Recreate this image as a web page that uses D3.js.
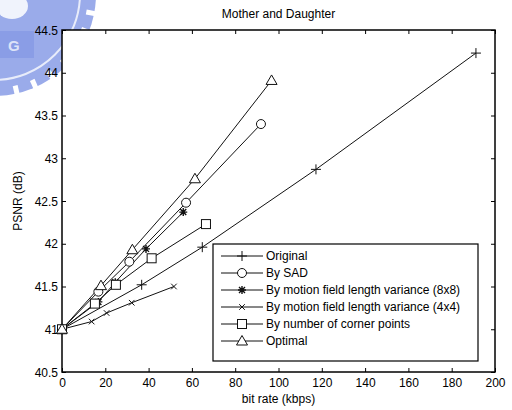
<!DOCTYPE html>
<html>
<head>
<meta charset="utf-8">
<script src="https://cdn.jsdelivr.net/npm/d3@7/dist/d3.min.js"></script>
<style>
  html, body { margin: 0; padding: 0; background: #fff; }
  svg { display: block; font-family: "Liberation Sans", Arial, sans-serif; }
</style>
</head>
<body>
<svg id="chart" width="512" height="410"></svg>
<script>
// Rate-distortion results for the "Mother and Daughter" sequence
const seriesNames = [
  "Original",
  "By SAD",
  "By motion field length variance (8x8)",
  "By motion field length variance (4x4)",
  "By number of corner points",
  "Optimal"
];
const seriesMarkers = ["plus", "circle", "star", "cross", "square", "triangle"];

const originalRate = [0, 36.8, 64.8, 117.3, 191.2];
const originalPsnr = [41.0, 41.52, 41.96, 42.87, 44.23];

const sadRate = [0, 16.8, 31.1, 57.3, 91.9];
const sadPsnr = [41.0, 41.44, 41.79, 42.48, 43.40];

const var8Rate = [0, 16.8, 24.6, 38.8, 56.0];
const var8Psnr = [41.0, 41.32, 41.55, 41.94, 42.37];

const var4Rate = [0, 13.7, 20.6, 32.2, 51.7];
const var4Psnr = [41.0, 41.09, 41.19, 41.31, 41.50];

const cornerRate = [0, 15.2, 24.9, 41.4, 66.5];
const cornerPsnr = [41.0, 41.30, 41.52, 41.83, 42.23];

const optimalRate = [0, 18.0, 32.5, 61.4, 96.8];
const optimalPsnr = [41.0, 41.51, 41.93, 42.76, 43.91];

const xTicks = [0, 20, 40, 60, 80, 100, 120, 140, 160, 180, 200];
const yTicks = [40.5, 41, 41.5, 42, 42.5, 43, 43.5, 44, 44.5];

const seriesRates = [originalRate, sadRate, var8Rate, var4Rate, cornerRate, optimalRate];
const seriesPsnrs = [originalPsnr, sadPsnr, var8Psnr, var4Psnr, cornerPsnr, optimalPsnr];
const series = seriesNames.map((name, i) => ({
  name,
  marker: seriesMarkers[i],
  points: seriesRates[i].map((r, j) => ({ rate: r, psnr: seriesPsnrs[i][j] }))
}));

const svg = d3.select("#chart");
const plot = { left: 62, right: 495, top: 30, bottom: 372 };

// Faint emblem in the upper-left corner
const emblem = svg.append("g").attr("transform", "translate(-6,-6)");
const embBlue = "#9aabea";
emblem.append("circle").attr("r", 102).attr("fill", embBlue);
d3.range(0, 360, 11).forEach(a => {
  emblem.append("rect")
    .attr("x", 94).attr("y", -2.5).attr("width", 14).attr("height", 5)
    .attr("fill", "#fff")
    .attr("transform", `rotate(${a})`);
});
emblem.append("circle").attr("r", 86).attr("fill", "none")
  .attr("stroke", "#e8ecfa").attr("stroke-width", 2);
emblem.append("ellipse").attr("cx", 18).attr("cy", 12).attr("rx", 16).attr("ry", 13)
  .attr("fill", "#fff").attr("opacity", 0.85);
emblem.append("rect").attr("x", 6).attr("y", 37).attr("width", 34).attr("height", 27)
  .attr("fill", "#8a9de6");
emblem.append("text").attr("x", 14).attr("y", 57).attr("fill", "#dde3f8")
  .attr("font-size", 15).attr("font-weight", "bold").text("G");

// Plot background covers the emblem
svg.append("rect")
  .attr("x", plot.left).attr("y", plot.top)
  .attr("width", plot.right - plot.left).attr("height", plot.bottom - plot.top)
  .attr("fill", "#fff");

const x = d3.scaleLinear().domain([0, 200]).range([plot.left, plot.right]);
const y = d3.scaleLinear().domain([40.5, 44.5]).range([plot.bottom, plot.top]);

const fmt = d => String(d);
const tickLen = 4;
const axisFont = 12;

// Inward ticks on all four sides
const axB = d3.axisBottom(x).tickValues(xTicks).tickSizeInner(-tickLen).tickSizeOuter(0).tickPadding(6).tickFormat(fmt);
const axT = d3.axisTop(x).tickValues(xTicks).tickSizeInner(-tickLen).tickSizeOuter(0).tickFormat("");
const axL = d3.axisLeft(y).tickValues(yTicks).tickSizeInner(-tickLen).tickSizeOuter(0).tickPadding(4).tickFormat(fmt);
const axR = d3.axisRight(y).tickValues(yTicks).tickSizeInner(-tickLen).tickSizeOuter(0).tickFormat("");

function styleAxis(g) {
  g.select(".domain").remove();
  g.selectAll("line").attr("stroke", "#000").attr("stroke-width", 1);
  g.selectAll("text").attr("fill", "#000").attr("font-size", axisFont)
    .attr("font-family", "'Liberation Sans', Arial, sans-serif");
}

svg.append("g").attr("transform", `translate(0,${plot.bottom})`).call(axB).call(styleAxis);
svg.append("g").attr("transform", `translate(0,${plot.top})`).call(axT).call(styleAxis);
svg.append("g").attr("transform", `translate(${plot.left},0)`).call(axL).call(styleAxis)
  .selectAll("text").attr("dy", "0.35em");
svg.append("g").attr("transform", `translate(${plot.right},0)`).call(axR).call(styleAxis);

// Frame
svg.append("rect")
  .attr("x", plot.left).attr("y", plot.top)
  .attr("width", plot.right - plot.left).attr("height", plot.bottom - plot.top)
  .attr("fill", "none").attr("stroke", "#000").attr("stroke-width", 1.5);

// Titles
svg.append("text").attr("x", (plot.left + plot.right) / 2).attr("y", 18)
  .attr("text-anchor", "middle").attr("font-size", 12).attr("fill", "#000")
  .text("Mother and Daughter");
svg.append("text").attr("x", (plot.left + plot.right) / 2).attr("y", 403)
  .attr("text-anchor", "middle").attr("font-size", 12).attr("fill", "#000")
  .text("bit rate (kbps)");
svg.append("text")
  .attr("transform", `translate(22,${(plot.top + plot.bottom) / 2}) rotate(-90)`)
  .attr("text-anchor", "middle").attr("font-size", 12).attr("fill", "#000")
  .text("PSNR (dB)");

// Marker drawing
const lineColor = "#111";
function drawMarker(g, type, cx, cy) {
  const s = g.append("g").attr("transform", `translate(${cx},${cy})`)
    .attr("fill", "none").attr("stroke", lineColor).attr("stroke-width", 1);
  switch (type) {
    case "plus":
      s.append("path").attr("d", "M-5,0H5M0,-5V5");
      break;
    case "circle":
      s.append("circle").attr("r", 4.5).attr("fill", "#fff");
      break;
    case "star":
      s.append("path").attr("d", "M-4,0H4M0,-4V4M-3,-3L3,3M-3,3L3,-3").attr("stroke-width", 1.4);
      break;
    case "cross":
      s.append("path").attr("d", "M-2.8,-2.8L2.8,2.8M-2.8,2.8L2.8,-2.8");
      break;
    case "square":
      s.append("rect").attr("x", -4.5).attr("y", -4.5).attr("width", 9).attr("height", 9).attr("fill", "#fff");
      break;
    case "triangle":
      s.append("path").attr("d", "M0,-5.5L5.5,4L-5.5,4Z").attr("fill", "#fff");
      break;
  }
}

const line = d3.line().x(d => x(d.rate)).y(d => y(d.psnr));
const plotArea = svg.append("g");
series.forEach(s => {
  plotArea.append("path").datum(s.points)
    .attr("d", line).attr("fill", "none")
    .attr("stroke", lineColor).attr("stroke-width", 1);
});
series.forEach(s => {
  s.points.forEach(p => drawMarker(plotArea, s.marker, x(p.rate), y(p.psnr)));
});

// Legend
const leg = { x: 213, y: 244, w: 265, h: 117, row: 17 };
const legend = svg.append("g");
legend.append("rect").attr("x", leg.x).attr("y", leg.y).attr("width", leg.w).attr("height", leg.h)
  .attr("fill", "#fff").attr("stroke", "#000").attr("stroke-width", 1.2);
series.forEach((s, i) => {
  const cy = leg.y + 12 + i * leg.row;
  legend.append("line").attr("x1", leg.x + 8).attr("x2", leg.x + 50)
    .attr("y1", cy).attr("y2", cy).attr("stroke", lineColor).attr("stroke-width", 1);
  drawMarker(legend, s.marker, leg.x + 29, cy);
  legend.append("text").attr("x", leg.x + 53).attr("y", cy).attr("dy", "0.35em")
    .attr("font-size", 12).attr("fill", "#000")
    .text(s.name);
});
</script>
</body>
</html>
